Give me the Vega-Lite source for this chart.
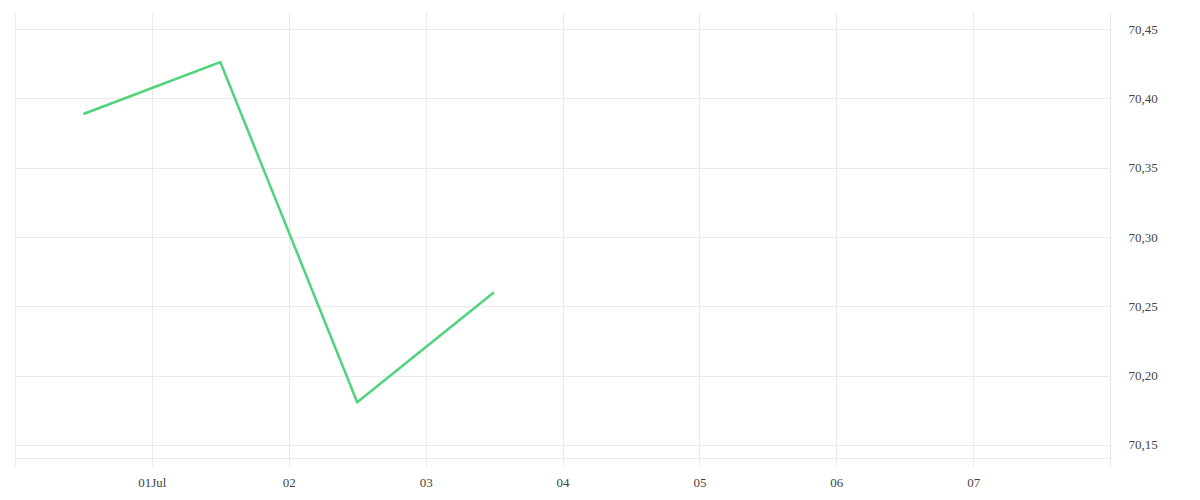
{
  "$schema": "https://vega.github.io/schema/vega-lite/v6.json",
  "width": 1095,
  "height": 446,
  "autosize": {"type": "none"},
  "padding": {"left": 15, "top": 12, "right": 90, "bottom": 42},
  "background": "white",
  "config": {
    "view": {"stroke": null},
    "locale": {"number": {"decimal": ",", "thousands": ".", "grouping": [3], "currency": ["", " €"]}},
    "axis": {"labelFont": "Liberation Serif", "labelFontSize": 13, "labelColor": "#444444", "gridColor": "#ebebeb", "domainColor": "#ebebeb", "tickColor": "#ebebeb"}
  },
  "data": {
    "values": [
      {"date": "2024-06-30T12:00:00Z", "value": 70.3887},
      {"date": "2024-07-01T12:00:00Z", "value": 70.4262},
      {"date": "2024-07-02T12:00:00Z", "value": 70.1809},
      {"date": "2024-07-03T12:00:00Z", "value": 70.2602}
    ]
  },
  "mark": {"type": "line", "color": "#4fd37b", "strokeWidth": 2.5},
  "encoding": {
    "x": {
      "field": "date",
      "type": "temporal",
      "scale": {"type": "utc", "domain": [{"year": 2024, "month": 6, "date": 30, "utc": true}, {"year": 2024, "month": 7, "date": 8, "utc": true}]},
      "axis": {
        "title": null,
        "values": [
          {"year": 2024, "month": 6, "date": 30, "utc": true},
          {"year": 2024, "month": 7, "date": 1, "utc": true},
          {"year": 2024, "month": 7, "date": 2, "utc": true},
          {"year": 2024, "month": 7, "date": 3, "utc": true},
          {"year": 2024, "month": 7, "date": 4, "utc": true},
          {"year": 2024, "month": 7, "date": 5, "utc": true},
          {"year": 2024, "month": 7, "date": 6, "utc": true},
          {"year": 2024, "month": 7, "date": 7, "utc": true},
          {"year": 2024, "month": 7, "date": 8, "utc": true}
        ],
        "labelExpr": "utcdate(datum.value) == 30 || utcdate(datum.value) == 8 ? '' : (utcdate(datum.value) == 1 ? utcFormat(datum.value, '%d%b') : utcFormat(datum.value, '%d'))",
        "grid": true,
        "tickSize": 8,
        "labelPadding": 10,
        "labelFlush": false,
        "labelOverlap": false
      }
    },
    "y": {
      "field": "value",
      "type": "quantitative",
      "scale": {"domain": [70.1406, 70.4623], "zero": false, "nice": false},
      "axis": {
        "orient": "right",
        "title": null,
        "values": [70.15, 70.2, 70.25, 70.3, 70.35, 70.4, 70.45],
        "format": ".2f",
        "grid": true,
        "ticks": false,
        "labelPadding": 18,
        "labelAlign": "left"
      }
    }
  }
}
